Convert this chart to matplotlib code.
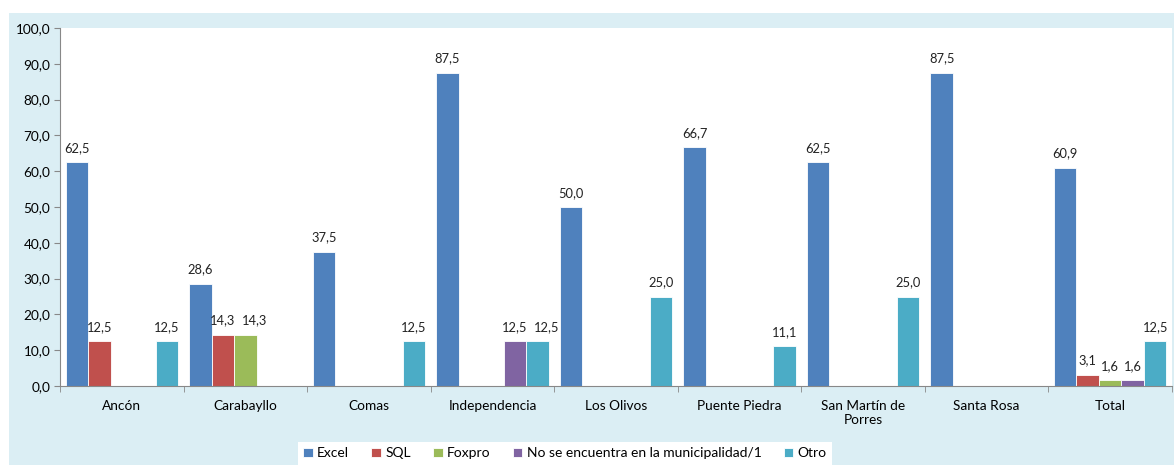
import numpy as np
import matplotlib
matplotlib.use("Agg")
import matplotlib.pyplot as plt
from matplotlib.patches import Rectangle
from matplotlib.ticker import FixedLocator, FuncFormatter

plt.rcParams['font.family'] = ['Lato', 'DejaVu Sans']

categories = ['Ancón', 'Carabayllo', 'Comas', 'Independencia', 'Los Olivos',
              'Puente Piedra', 'San Martín de\nPorres', 'Santa Rosa', 'Total']
series_names = ['Excel', 'SQL', 'Foxpro', 'No se encuentra en la municipalidad/1', 'Otro']
excel = [62.5, 28.6, 37.5, 87.5, 50.0, 66.7, 62.5, 87.5, 60.9]
sql = [12.5, 14.3, np.nan, np.nan, np.nan, np.nan, np.nan, np.nan, 3.1]
foxpro = [np.nan, 14.3, np.nan, np.nan, np.nan, np.nan, np.nan, np.nan, 1.6]
no_se = [np.nan, np.nan, np.nan, 12.5, np.nan, np.nan, np.nan, np.nan, 1.6]
otro = [12.5, np.nan, 12.5, 12.5, 25.0, 11.1, 25.0, np.nan, 12.5]
colors = ['#4F81BD', '#C0504D', '#9BBB59', '#8064A2', '#4BACC6']

W, H = 1174, 465
fig = plt.figure(figsize=(W / 100, H / 100), dpi=100, facecolor='white')
fig.patches.append(Rectangle((9 / W, 0), (W - 9) / W, (H - 13) / H,
                             transform=fig.transFigure, facecolor='#DBEEF4',
                             edgecolor='none', zorder=-10))
ax = fig.add_axes([60 / W, 1 - 386 / H, (1172 - 60) / W, (386 - 28) / H])
ax.set_zorder(1)
ax.set_facecolor('white')

x = np.arange(len(categories))
bw = 0.182
data = [excel, sql, foxpro, no_se, otro]
labels = {}  # group index -> list of annotations, left to right
for i, (vals, name, c) in enumerate(zip(data, series_names, colors)):
    pos = x + (i - 2) * bw
    v = np.array(vals, dtype=float)
    ax.bar(pos, np.nan_to_num(v), width=bw, color=c, label=name,
           edgecolor='white', linewidth=0.6, zorder=2)
    for g, (p, val) in enumerate(zip(pos, v)):
        if not np.isnan(val):
            t = ax.annotate(f'{val:.1f}'.replace('.', ','), (p, val),
                            xytext=(0, 6), textcoords='offset points',
                            ha='center', va='bottom', fontsize=9.3, color='#222222')
            labels.setdefault(g, []).append(t)

ax.set_xlim(-0.5, len(categories) - 0.5)
ax.set_ylim(0, 100)
ax.set_yticks(np.arange(0, 101, 10))
ax.yaxis.set_major_formatter(FuncFormatter(lambda v, p: f'{v:.1f}'.replace('.', ',')))
ax.set_xticks(x)
ax.set_xticklabels(categories)
ax.xaxis.set_minor_locator(FixedLocator(np.arange(-0.5, len(categories), 1.0)))
ax.tick_params(axis='x', which='major', length=0, pad=10, labelsize=9.8)
ax.tick_params(axis='x', which='minor', length=4, color='#888888', direction='out')
ax.tick_params(axis='y', length=4, color='#888888', labelsize=9.8, pad=3)
for s in ['top', 'right']:
    ax.spines[s].set_visible(False)
for s in ['left', 'bottom']:
    ax.spines[s].set_color('#888888')
    ax.spines[s].set_linewidth(0.8)

# move a data label right when it collides with its left neighbour
fig.canvas.draw()
r = fig.canvas.get_renderer()
px2pt = 72.0 / fig.dpi
for g, lst in labels.items():
    for a, b in zip(lst[:-1], lst[1:]):
        ba, bb = a.get_window_extent(r), b.get_window_extent(r)
        if ba.overlaps(bb):
            shift = (ba.x1 - bb.x0) + 6
            b.xyann = (b.xyann[0] + shift * px2pt, b.xyann[1])

leg = fig.legend(loc='lower center', bbox_to_anchor=(565 / W, 0.0), ncol=5,
                 frameon=True, fancybox=False, edgecolor='none', facecolor='white',
                 fontsize=10, handlelength=0.7, handleheight=0.7, handletextpad=0.3,
                 columnspacing=1.6, borderpad=0.4, borderaxespad=0.0)
leg.get_frame().set_linewidth(0)
leg.get_frame().set_alpha(1)

fig.savefig('out.png', dpi=100, facecolor='white')
